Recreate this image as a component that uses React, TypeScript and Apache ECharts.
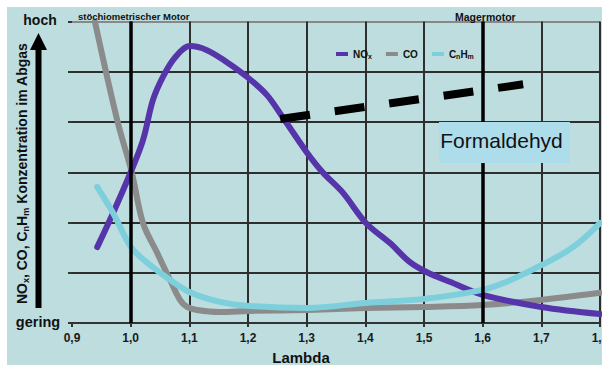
import React, { useEffect, useRef } from "react";
import * as echarts from "echarts";

const FONT = "'Liberation Sans', Arial, Helvetica, sans-serif";

const xTickLabels = ["0,9", "1,0", "1,1", "1,2", "1,3", "1,4", "1,5", "1,6", "1,7", "1,8"];

const noxLambda = [0.943, 0.97, 1.0, 1.021, 1.038, 1.055, 1.076, 1.101, 1.13, 1.164, 1.198, 1.232, 1.26, 1.3, 1.328, 1.362, 1.401, 1.442, 1.476, 1.505, 1.544, 1.6, 1.7, 1.8];
const noxValues = [1.51, 2.19, 3.0, 3.64, 4.44, 4.9, 5.29, 5.51, 5.43, 5.19, 4.9, 4.54, 4.08, 3.4, 2.99, 2.59, 1.99, 1.59, 1.21, 1.01, 0.82, 0.56, 0.32, 0.18];

const coLambda = [0.939, 0.977, 1.002, 1.021, 1.045, 1.067, 1.084, 1.096, 1.113, 1.152, 1.202, 1.302, 1.401, 1.5, 1.6, 1.7, 1.8];
const coValues = [6.0, 4.04, 2.99, 1.99, 1.4, 0.86, 0.46, 0.32, 0.26, 0.22, 0.24, 0.26, 0.3, 0.32, 0.36, 0.46, 0.6];

const hcLambda = [0.943, 0.97, 1.002, 1.038, 1.062, 1.103, 1.152, 1.202, 1.302, 1.401, 1.5, 1.6, 1.641, 1.7, 1.754, 1.8];
const hcValues = [2.71, 2.19, 1.49, 1.11, 0.9, 0.6, 0.42, 0.34, 0.3, 0.4, 0.48, 0.66, 0.82, 1.15, 1.51, 1.99];

const formaldehydLambda = [1.255, 1.669];
const formaldehydValues = [4.06, 4.75];

const regimeLines = [1.0, 1.6];

const seriesNames = ["NOx", "CO", "CnHm"];
const legendRich: Record<string, string> = {
  NOx: "{b|NO}{s|x}",
  CO: "{b|CO}",
  CnHm: "{b|C}{s|n}{b|H}{s|m}",
};

const zip = (xs: number[], ys: number[]) => xs.map((x, i) => [x, ys[i]]);

export default function App() {
  const ref = useRef<HTMLDivElement>(null);
  useEffect(() => {
    document.body.style.margin = "0";
    const chart = echarts.init(ref.current!, null, { renderer: "svg" });
    const lineSeries = (name: string, xs: number[], ys: number[], color: string, z: number) => ({
      name,
      type: "line",
      data: zip(xs, ys),
      showSymbol: false,
      symbol: "none",
      smooth: 0.35,
      z,
      clip: true,
      lineStyle: { color, width: 6, cap: "round", join: "round" },
      itemStyle: { color },
    });
    chart.setOption({
      animation: false,
      backgroundColor: "#bedddf",
      textStyle: { fontFamily: FONT },
      grid: { left: 72, right: 2, top: 21.5, bottom: 42, containLabel: false, outerBoundsMode: "none" },
      legend: {
        data: seriesNames,
        left: 331,
        top: 44,
        icon: "rect",
        itemWidth: 12,
        itemHeight: 4,
        itemGap: 14,
        formatter: (n: string) => legendRich[n],
        textStyle: {
          rich: {
            b: { fontFamily: FONT, fontSize: 10, fontWeight: "bold", color: "#111", lineHeight: 12 },
            s: { fontFamily: FONT, fontSize: 7, fontWeight: "bold", color: "#111", lineHeight: 7, verticalAlign: "bottom" },
          },
        },
      },
      xAxis: {
        type: "value",
        min: 0.9,
        max: 1.8,
        interval: 0.1,
        axisLine: { show: true, lineStyle: { color: "#333", width: 2 } },
        axisTick: { show: true, length: 4, lineStyle: { color: "#333", width: 2 } },
        axisLabel: {
          margin: 9,
          fontFamily: FONT,
          fontSize: 12,
          fontWeight: "bold",
          color: "#1a1a1a",
          hideOverlap: false,
          formatter: (v: number) => xTickLabels[Math.round((v - 0.9) * 10)],
        },
        splitLine: { show: true, showMinLine: false, lineStyle: { color: "#2e2e2e", width: 2 } },
      },
      yAxis: {
        type: "value",
        min: 0,
        max: 6,
        interval: 1,
        axisLine: { show: false },
        axisTick: { show: true, length: 4, lineStyle: { color: "#333", width: 2 } },
        axisLabel: { show: false },
        splitLine: {
          show: true,
          lineStyle: { color: ["#2e2e2e", "#2e2e2e", "#2e2e2e", "#2e2e2e", "#2e2e2e", "#2e2e2e", "#888"], width: 2 },
        },
      },
      series: [
        {
          name: "regimes",
          type: "line",
          data: [],
          z: 1,
          silent: true,
          markLine: {
            silent: true,
            symbol: "none",
            label: { show: false },
            lineStyle: { color: "#000", width: 3.5, type: "solid" },
            data: regimeLines.map((v) => ({ xAxis: v })),
          },
        },
        lineSeries("CO", coLambda, coValues, "#8b8b8b", 2),
        lineSeries("NOx", noxLambda, noxValues, "#5535a9", 3),
        lineSeries("CnHm", hcLambda, hcValues, "#7ccfdb", 4),
        {
          name: "Formaldehyd",
          type: "line",
          data: zip(formaldehydLambda, formaldehydValues),
          symbol: "none",
          z: 5,
          lineStyle: { color: "#000", width: 8, type: [30, 25], cap: "butt" },
        },
      ],
      graphic: [
        { type: "rect", shape: { x: 0, y: 0, width: 602, height: 7 }, style: { fill: "#fff" }, z: 100 },
        { type: "rect", shape: { x: 0, y: 0, width: 7, height: 365 }, style: { fill: "#fff" }, z: 100 },
        { type: "line", shape: { x1: 38.5, y1: 308, x2: 38.5, y2: 48 }, style: { stroke: "#000", lineWidth: 6 }, z: 10 },
        { type: "polygon", shape: { points: [[30, 50], [47, 50], [38.5, 33]] }, style: { fill: "#000" }, z: 10 },
        {
          type: "text",
          x: 22,
          y: 173.5,
          rotation: Math.PI / 2,
          z: 10,
          style: {
            text: "{b|NO}{s|x}{b|, CO, C}{s|n}{b|H}{s|m}{b| Konzentration im Abgas}",
            align: "center",
            verticalAlign: "middle",
            rich: {
              b: { fontFamily: FONT, fontSize: 14, fontWeight: "bold", fill: "#111", lineHeight: 16 },
              s: { fontFamily: FONT, fontSize: 9, fontWeight: "bold", fill: "#111", lineHeight: 9, verticalAlign: "bottom" },
            },
          },
        },
        { type: "text", x: 40, y: 19.5, z: 10, style: { text: "hoch", font: `bold 14px ${FONT}`, fill: "#111", align: "center", verticalAlign: "middle" } },
        { type: "text", x: 38, y: 322, z: 10, style: { text: "gering", font: `bold 14.5px ${FONT}`, fill: "#111", align: "center", verticalAlign: "middle" } },
        { type: "text", x: 78, y: 16, z: 10, style: { text: "stöchiometrischer Motor", font: `bold 9.5px ${FONT}`, fill: "#111", align: "left", verticalAlign: "middle" } },
        { type: "text", x: 455, y: 16.5, z: 10, style: { text: "Magermotor", font: `bold 10.5px ${FONT}`, fill: "#111", align: "left", verticalAlign: "middle" } },
        { type: "text", x: 301, y: 357.5, z: 10, style: { text: "Lambda", font: `bold 15px ${FONT}`, fill: "#111", align: "center", verticalAlign: "middle" } },
        { type: "rect", shape: { x: 439, y: 122, width: 131, height: 41 }, style: { fill: "#addcea" }, z: 10 },
        { type: "text", x: 501.5, y: 140, z: 11, style: { text: "Formaldehyd", font: `21px ${FONT}`, fill: "#111", align: "center", verticalAlign: "middle" } },
      ],
    });
    return () => chart.dispose();
  }, []);
  return <div ref={ref} style={{ width: 602, height: 365 }} />;
}
